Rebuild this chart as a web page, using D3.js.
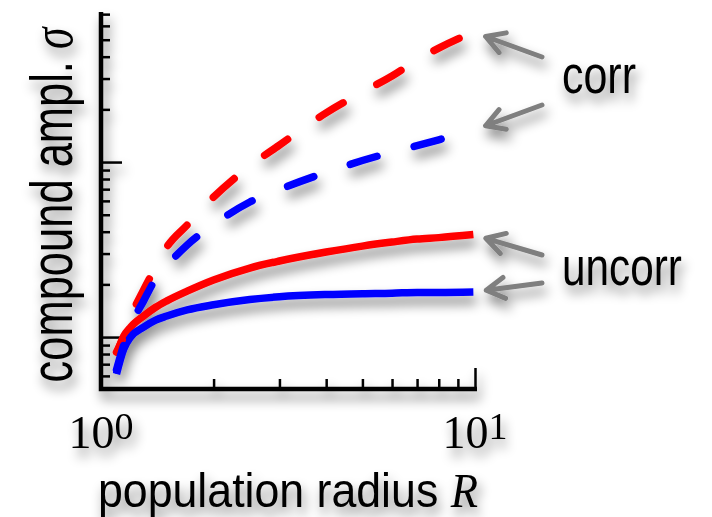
<!DOCTYPE html>
<html>
<head>
<meta charset="utf-8">
<script src="https://cdn.jsdelivr.net/npm/d3@7"></script>
<style>
  body { margin: 0; background: #fff; }
  text { font-family: "Liberation Sans", Arial, sans-serif; fill: #000; }
</style>
</head>
<body>
<svg id="chart" width="712" height="517"></svg>
<script>
// population radius R (x values shared by all curves)
const radius = [1.1, 1.15, 1.2, 1.3, 1.4, 1.5, 1.7, 2, 2.5, 3, 4, 5, 6, 7, 8, 9.9];

// compound amplitude sigma
const uncorrRed  = [0.79, 1.01, 1.14, 1.32, 1.48, 1.61, 1.83, 2.12, 2.48, 2.72, 3.06, 3.31, 3.49, 3.63, 3.70, 3.85];
const uncorrBlue = [0.615, 0.854, 1.0, 1.14, 1.25, 1.32, 1.43, 1.53, 1.64, 1.70, 1.75, 1.77, 1.78, 1.80, 1.80, 1.81];
const corrRed    = [0.82, 1.01, 1.30, 1.86, 2.51, 3.27, 4.37, 6.31, 9.49, 12.5, 19.1, 25.1, 31.0, 38.3, 44.8, 55.3];
const corrBlue   = [0.65, 0.90, 1.16, 1.61, 2.15, 2.56, 3.36, 4.39, 5.91, 6.97, 8.73, 10.2, 11.4, 12.4, 13.4, 15.2];

// ticks
const xMajor = [1, 10];
const xMinor = [2, 3, 4, 5, 6, 7, 8, 9];
const yMajor = [1, 10];
const yMinor = [0.6, 0.7, 0.8, 0.9, 2, 3, 4, 5, 6, 7, 8, 9, 20, 30, 40, 50, 60, 70];
const xTickLabels = [{base: "10", exp: "0", v: 1}, {base: "10", exp: "1", v: 10}];

const svg = d3.select("#chart");

// soft grey drop shadow used on everything
const defs = svg.append("defs");
const f = defs.append("filter").attr("id", "shadow")
    .attr("filterUnits", "userSpaceOnUse")
    .attr("x", 0).attr("y", 0).attr("width", 712).attr("height", 517);
f.append("feGaussianBlur").attr("in", "SourceAlpha").attr("stdDeviation", 6).attr("result", "blur");
f.append("feOffset").attr("in", "blur").attr("dx", 3).attr("dy", 8).attr("result", "off");
f.append("feComponentTransfer").attr("in", "off").attr("result", "shadow")
  .append("feFuncA").attr("type", "linear").attr("slope", 0.5);
const merge = f.append("feMerge");
merge.append("feMergeNode").attr("in", "shadow");
merge.append("feMergeNode").attr("in", "SourceGraphic");

const g = svg.append("g").attr("filter", "url(#shadow)");

const x = d3.scaleLog().domain([1, 10]).range([101, 475]);
const y = d3.scaleLog().domain([0.505, 72]).range([389, 12]);

// axes: ticks point inward, no labels from d3
function styleAxis(sel, w) {
    sel.select(".domain").remove();
    sel.selectAll(".tick line").attr("stroke", "#000").attr("stroke-width", w);
    sel.selectAll(".tick text").remove();
}
g.append("g").attr("transform", "translate(0,389)")
    .call(d3.axisBottom(x).tickValues(xMinor).tickSize(-10).tickFormat(""))
    .call(styleAxis, 2.5);
g.append("g").attr("transform", "translate(0,389)")
    .call(d3.axisBottom(x).tickValues(xMajor).tickSize(-21).tickFormat(""))
    .call(styleAxis, 2.5);
g.append("g").attr("transform", "translate(101,0)")
    .call(d3.axisLeft(y).tickValues(yMinor).tickSize(-9).tickFormat(""))
    .call(styleAxis, 2.5);
g.append("g").attr("transform", "translate(101,0)")
    .call(d3.axisLeft(y).tickValues(yMajor).tickSize(-21).tickFormat(""))
    .call(styleAxis, 2.5);

// spines
g.append("path")
    .attr("d", `M${x.range()[0]},${y.range()[1]}V${y.range()[0]}H${x.range()[1] + 2}`)
    .attr("fill", "none").attr("stroke", "#000").attr("stroke-width", 4.5)
    .attr("stroke-linejoin", "miter");

// curves
const line = d3.line()
    .x((d, i) => x(radius[i]))
    .y(d => y(d))
    .curve(d3.curveMonotoneX);

// dashPhaseX: x pixel where one dash starts, so the dash phase matches the figure
const series = [
    {values: uncorrRed, color: "#ff0000", dashed: false},
    {values: uncorrBlue, color: "#0000ff", dashed: false},
    {values: corrRed, color: "#ff0000", dashed: true, dashPhaseX: 316},
    {values: corrBlue, color: "#0000ff", dashed: true, dashPhaseX: 284}
];

const dashOn = 28, dashOff = 38.4, period = dashOn + dashOff;

g.selectAll(".curve")
    .data(series)
    .enter()
    .append("path")
    .attr("class", "curve")
    .attr("d", d => line(d.values))
    .attr("fill", "none")
    .attr("stroke", d => d.color)
    .attr("stroke-width", 7.5)
    .attr("stroke-linecap", d => d.dashed ? "round" : "butt")
    .each(function(d) {
        if (!d.dashed) return;
        // find path length at the x where a dash starts
        const L = this.getTotalLength();
        let lo = 0, hi = L;
        for (let k = 0; k < 40; k++) {
            const mid = (lo + hi) / 2;
            if (this.getPointAtLength(mid).x < d.dashPhaseX) lo = mid; else hi = mid;
        }
        const s0 = lo + 3.75;
        const off = period - (s0 % period);
        d3.select(this)
            .attr("stroke-dasharray", `${dashOn} ${dashOff}`)
            .attr("stroke-dashoffset", off);
    });

// x tick labels (10^0, 10^1) in serif
const tl = g.selectAll(".xlab")
    .data(xTickLabels)
    .enter()
    .append("text")
    .attr("x", d => x(d.v))
    .attr("y", 448)
    .attr("text-anchor", "middle")
    .style("font-family", "'Liberation Serif', 'DejaVu Serif', serif")
    .style("font-size", "46px");
tl.append("tspan").text(d => d.base);
tl.append("tspan").attr("dy", -9).style("font-size", "38px").text(d => d.exp);

// squeeze a text horizontally to a target length (the figure's font is narrow)
function fitWidth(text, target, place) {
    const w = text.node().getComputedTextLength();
    text.attr("transform", `${place} scale(${target / w},1)`);
}

// axis labels
const xl = g.append("text").style("font-size", "48px");
xl.append("tspan").text("population radius ");
xl.append("tspan").style("font-family", "'Liberation Serif', serif").style("font-style", "italic").text("R");
fitWidth(xl, 380, "translate(98,507)");

const yl = g.append("text")
    .attr("text-anchor", "middle")
    .style("font-size", "60px");
yl.append("tspan").text("compound ampl. ");
yl.append("tspan").style("font-family", "'Liberation Serif', serif").style("font-style", "italic").text("σ");
fitWidth(yl, 355, "translate(72,205) rotate(-90)");

// annotations: labels with grey arrows pointing to curve ends
const notes = [
    {label: "corr", pos: [562, 93], len: 74, tails: [[542, 57], [542, 105]], targets: [corrRed, corrBlue]},
    {label: "uncorr", pos: [562, 285], len: 120, tails: [[542, 255], [542, 283]], targets: [uncorrRed, uncorrBlue]}
];

notes.forEach(n => {
    const t = g.append("text")
        .style("font-size", "54px")
        .text(n.label);
    fitWidth(t, n.len, `translate(${n.pos[0]},${n.pos[1]})`);

    n.targets.forEach((vals, i) => {
        const ex = x(radius[radius.length - 1]), ey = y(vals[vals.length - 1]);
        const [tx, ty] = n.tails[i];
        const dx = tx - ex, dy = ty - ey, L = Math.hypot(dx, dy);
        const ux = dx / L, uy = dy / L;
        const px = ex + ux * 13, py = ey + uy * 13; // tip, shrunk away from curve end
        const ang = 30 * Math.PI / 180, hl = 21;
        const w1 = [px + hl * (ux * Math.cos(ang) - uy * Math.sin(ang)), py + hl * (uy * Math.cos(ang) + ux * Math.sin(ang))];
        const w2 = [px + hl * (ux * Math.cos(ang) + uy * Math.sin(ang)), py + hl * (uy * Math.cos(ang) - ux * Math.sin(ang))];
        g.append("path")
            .attr("d", `M${tx},${ty}L${px},${py}M${w1[0]},${w1[1]}L${px},${py}L${w2[0]},${w2[1]}`)
            .attr("fill", "none")
            .attr("stroke", "#7f7f7f")
            .attr("stroke-width", 5)
            .attr("stroke-linecap", "round")
            .attr("stroke-linejoin", "round");
    });
});
</script>
</body>
</html>
